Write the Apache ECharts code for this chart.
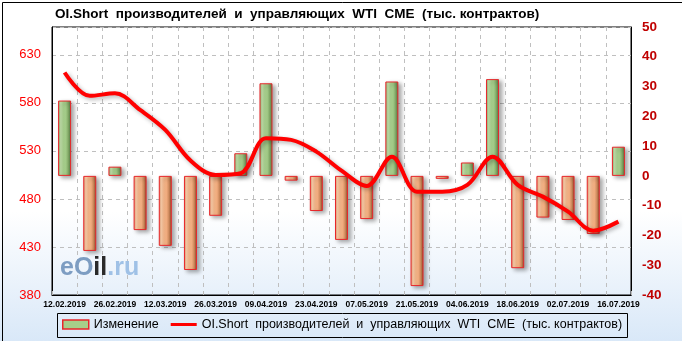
<!DOCTYPE html>
<html><head><meta charset="utf-8">
<script src="https://cdn.jsdelivr.net/npm/echarts@6/dist/echarts.min.js"></script>
<style>html,body{margin:0;padding:0;background:#fff}#c{width:682px;height:341px}</style>
</head><body><div id="c"></div>
<script>
const dates = ['12.02.2019','19.02.2019','26.02.2019','05.03.2019','12.03.2019','19.03.2019','26.03.2019','02.04.2019','09.04.2019','16.04.2019','23.04.2019','30.04.2019','07.05.2019','14.05.2019','21.05.2019','28.05.2019','04.06.2019','11.06.2019','18.06.2019','25.06.2019','02.07.2019','09.07.2019','16.07.2019'];
const changes = [25.3, -25.2, 3.1, -18.2, -23.5, -31.6, -13.4, 7.6, 31.1, -1.6, -11.8, -21.5, -14.5, 31.7, -37, -1, 4.5, 32.5, -31, -14, -14.8, -19.5, 9.8];
const oiShort = [611.6, 587.3, 590, 572.7, 551.9, 520, 505, 506.8, 543.2, 541.5, 529.3, 509.4, 493.5, 524, 487.6, 487.6, 494.6, 524, 494.6, 482.4, 466.8, 447, 456.4];
const leftTicks = {min: 380, max: 659, step: 50};
const rightTicks = {min: -40, max: 50, step: 10};
const titleText = 'OI.Short  производителей  и  управляющих  WTI  CME  (тыс. контрактов)';
const nameBar = 'Изменение';
const nameLine = 'OI.Short  производителей  и  управляющих  WTI  CME  (тыс. контрактов)';

function grad(stops){return {type:'linear',x:0,y:0,x2:1,y2:0,colorStops:stops.map((c,i)=>({offset:i/(stops.length-1),color:c}))};}
const greenFill = grad(['#86ad6c','#c3e2ab','#acd491','#a3cc88','#7da363','#4d6e3a']);
const orangeFill = grad(['#d8926a','#ffd0ab','#f9b98c','#f3ae80','#c98558','#7e4524']);

const chart = echarts.init(document.getElementById('c'), null, {renderer:'canvas'});
chart.setOption({
  animation:false,
  backgroundColor:{type:'linear',x:0,y:0,x2:0,y2:1,colorStops:[{offset:0,color:'#ffffff'},{offset:0.62,color:'#ffffff'},{offset:1,color:'#d9e8f8'}]},
  title:{text:titleText,left:55,top:7,padding:0,textStyle:{fontFamily:'Liberation Sans',fontWeight:'bold',fontSize:13.5,color:'#000'}},
  grid:{left:52,right:51,top:27,bottom:46,show:true,borderColor:'#000',borderWidth:1,backgroundColor:'transparent'},
  legend:{left:62,top:318,itemGap:12,itemWidth:26,itemHeight:9,padding:0,
    textStyle:{fontFamily:'Liberation Sans',fontSize:12.5,color:'#000'},
    data:[{name:nameBar,icon:'rect',itemStyle:{color:'#a6cf8a',borderColor:'#e8262a',borderWidth:1.5}},
          {name:nameLine,icon:'path://M0,0h0.1v0.1h-0.1Z M0,3h28v3.2h-28Z M27.9,8.9h0.1v0.1h-0.1Z',itemStyle:{color:'#ff0000'}}]},
  xAxis:{type:'category',data:dates,boundaryGap:true,
    axisLine:{onZero:false,lineStyle:{color:'#000'}},
    axisTick:{show:true,inside:true,length:4,lineStyle:{color:'#bbb'}},
    axisLabel:{interval:1,margin:5,fontFamily:'Liberation Sans',fontWeight:'bold',fontSize:8.5,color:'#000'},
    splitLine:{show:true,interval:0,lineStyle:{color:'#bfbfbf',type:[4,4]}}},
  yAxis:[
    {type:'value',min:leftTicks.min,max:leftTicks.max,interval:leftTicks.step,position:'left',
      axisLine:{show:true,lineStyle:{color:'#000'}},axisTick:{show:false},
      axisLabel:{showMaxLabel:false,margin:11,fontFamily:'Liberation Sans',fontSize:13,color:'#ff0000'},
      splitLine:{show:true,lineStyle:{color:'#bfbfbf',type:[4,4]}}},
    {type:'value',min:rightTicks.min,max:rightTicks.max,interval:rightTicks.step,position:'right',
      axisLine:{show:true,lineStyle:{color:'#000'}},axisTick:{show:false},
      axisLabel:{margin:11,fontFamily:'Liberation Sans',fontWeight:'bold',fontSize:13.5,color:'#c00000'},
      splitLine:{show:false}}
  ],
  graphic:[
    {type:'rect',left:0,top:0,z:100,shape:{x:0.5,y:0.5,width:681,height:340},style:{fill:'none',stroke:'#000',lineWidth:1}},
    {type:'rect',z:1,shape:{x:57.5,y:313.5,width:570,height:24},style:{fill:'transparent',stroke:'#000',lineWidth:1}},
    {type:'text',z:1,left:60,top:256,style:{text:'{a|eO}{b|il}{c|.ru}',rich:{
      a:{fontFamily:'Liberation Sans',fontSize:25,fontWeight:'bold',fill:'#7d9dc2'},
      b:{fontFamily:'Liberation Sans',fontSize:25,fontWeight:'bold',fill:'#2a2a2a'},
      c:{fontFamily:'Liberation Sans',fontSize:25,fontWeight:'bold',fill:'#9fc1e6'}}}}
  ],
  series:[
    {name:nameBar,type:'bar',yAxisIndex:1,barWidth:13,z:2,
      data:changes.map(v=>({value:v,itemStyle:{color:v>=0?greenFill:orangeFill}})),
      itemStyle:{borderColor:'#e8262a',borderWidth:1,shadowColor:'rgba(0,0,0,0.35)',shadowBlur:4,shadowOffsetX:3,shadowOffsetY:2}},
    {name:nameLine,type:'line',yAxisIndex:0,data:oiShort,smooth:0.35,symbol:'none',z:3,
      itemStyle:{color:'#ff0000'},
      lineStyle:{color:'#ff0000',width:4,shadowColor:'rgba(0,0,0,0.3)',shadowBlur:4,shadowOffsetX:2,shadowOffsetY:2}}
  ]
});
</script></body></html>
